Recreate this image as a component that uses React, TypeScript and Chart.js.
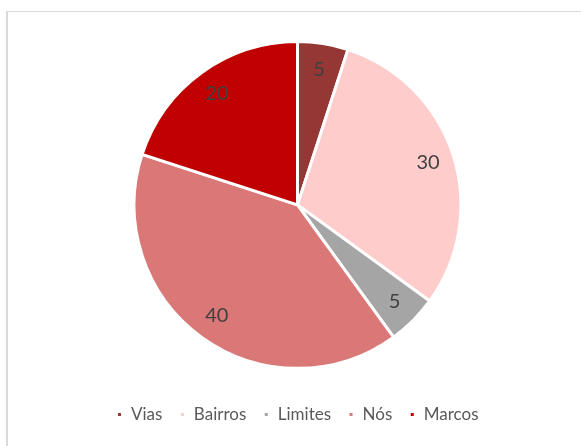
import React, { useEffect, useRef } from "react";
import { Chart, registerables } from "chart.js";

Chart.register(...registerables);

const categories = ["Vias", "Bairros", "Limites", "Nós", "Marcos"];
const values = [5, 30, 5, 40, 20];
const colors = ["#953735", "#FFCCCC", "#A5A5A5", "#DA7777", "#C00000"];

const labelPlugin = {
  id: "sliceLabels",
  afterDatasetsDraw(chart: any) {
    const ctx = chart.ctx;
    const meta = chart.getDatasetMeta(0);
    ctx.save();
    ctx.font = "20px Lato";
    ctx.fillStyle = "#404040";
    ctx.textAlign = "center";
    ctx.textBaseline = "middle";
    meta.data.forEach((arc: any, i: number) => {
      const p = arc.getProps(["x", "y", "startAngle", "endAngle", "outerRadius"], true);
      const mid = (p.startAngle + p.endAngle) / 2;
      const r = p.outerRadius * 0.84;
      ctx.fillText(String(values[i]), p.x + Math.cos(mid) * r, p.y + Math.sin(mid) * r);
    });
    ctx.restore();
  },
};

export default function App() {
  const ref = useRef<HTMLCanvasElement>(null);
  useEffect(() => {
    const chart = new Chart(ref.current!, {
      type: "pie",
      data: {
        labels: categories,
        datasets: [
          {
            data: values,
            backgroundColor: colors,
            borderColor: "#FFFFFF",
            borderWidth: 3,
            hoverOffset: 0,
          },
        ],
      },
      options: {
        animation: false,
        responsive: false,
        maintainAspectRatio: false,
        layout: { padding: { top: 40, left: 14, right: 0, bottom: 13 } },
        plugins: {
          tooltip: { enabled: false },
          legend: {
            position: "bottom",
            title: { display: true, text: "", font: { size: 1 }, padding: { top: 18, bottom: 0 } },
            labels: {
              boxWidth: 6,
              boxHeight: 6,
              padding: 17,
              color: "#595959",
              font: { family: "Lato", size: 17 },
            },
          },
        },
      },
      plugins: [labelPlugin],
    });
    return () => chart.destroy();
  }, []);
  return (
    <div style={{ position: "fixed", left: 0, top: 0, width: 581, height: 446, background: "#fff", overflow: "hidden" }}>
      <div
        style={{
          position: "absolute",
          left: 6,
          top: 11,
          width: 600,
          height: 460,
          borderTop: "1px solid #D9D9D9",
          borderLeft: "2px solid #D9D9D9",
        }}
      />
      <canvas ref={ref} width={581} height={446} style={{ position: "absolute", left: 0, top: 0 }} />
    </div>
  );
}
